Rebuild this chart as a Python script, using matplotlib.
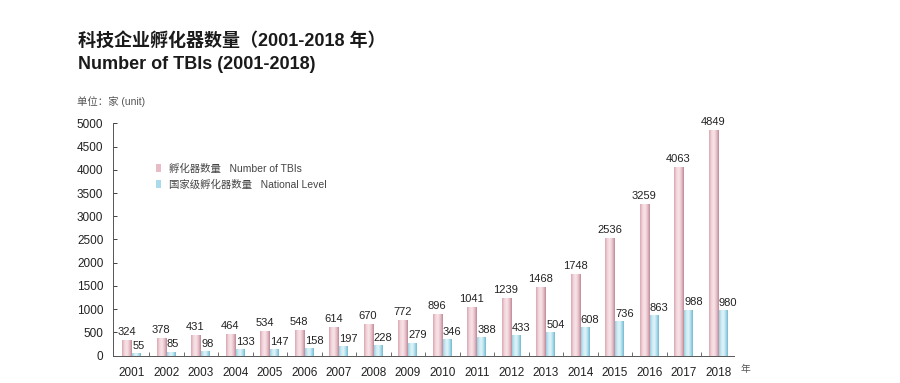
import matplotlib

matplotlib.use('Agg')
import matplotlib.pyplot as plt
import numpy as np
from matplotlib.colors import LinearSegmentedColormap

plt.rcParams['font.family'] = ['Liberation Sans', 'Noto Sans CJK SC']

years = ["2001", "2002", "2003", "2004", "2005", "2006", "2007", "2008", "2009",
         "2010", "2011", "2012", "2013", "2014", "2015", "2016", "2017", "2018"]
total = [324, 378, 431, 464, 534, 548, 614, 670, 772, 896, 1041, 1239, 1468, 1748,
         2536, 3259, 4063, 4849]
national = [55, 85, 98, 133, 147, 158, 197, 228, 279, 346, 388, 433, 504, 608,
            736, 863, 988, 980]
yticks = [0, 500, 1000, 1500, 2000, 2500, 3000, 3500, 4000, 4500, 5000]

pink_cmap = LinearSegmentedColormap.from_list(
    "pink", ["#d7a7b2", "#f2d5db", "#f8e6ea", "#e9c1ca", "#bf8a97"])
blue_cmap = LinearSegmentedColormap.from_list(
    "blue", ["#98d0e2", "#cdebf4", "#e2f4f9", "#aedeec", "#72b9d1"])

fig = plt.figure(figsize=(9, 3.83), dpi=100)
ax = fig.add_axes([0.1256, 0.0713, 0.690, 0.6068])

x = np.arange(len(years))
b1 = ax.bar(x - 0.14, total, width=0.28, color="#e8bcc6", zorder=2,
            label="孵化器数量   Number of TBIs")
b2 = ax.bar(x + 0.12, national, width=0.24, color="#a9dbea", zorder=2,
            label="国家级孵化器数量   National Level")

# cylinder-ish shading on each bar
grad = np.linspace(0, 1, 64).reshape(1, -1)
for bars, cmap in ((b1, pink_cmap), (b2, blue_cmap)):
    for r in bars:
        x0, w, h = r.get_x(), r.get_width(), r.get_height()
        ax.imshow(grad, extent=(x0, x0 + w, 0, h), cmap=cmap, aspect='auto',
                  interpolation='bilinear', zorder=3)

for i in range(len(years)):
    ax.text(x[i] - 0.16, total[i] + 70, str(total[i]), ha='center', va='bottom',
            fontsize=8, color="#222222", zorder=4)
    ax.text(x[i] + 0.01, national[i] + 50, str(national[i]), ha='left', va='bottom',
            fontsize=8, color="#222222", zorder=4)

ax.set_xlim(-0.55, 17.45)
ax.set_ylim(0, 5000)
ax.set_xticks(x)
ax.set_xticklabels(years)
ax.set_xticks(x[:-1] + 0.5, minor=True)
ax.set_yticks(yticks)
ax.tick_params(axis='x', which='major', length=0, labelsize=8.5, colors="#222222", pad=8)
ax.tick_params(axis='x', which='minor', direction='in', length=3, width=0.6, color="#555555")
ax.tick_params(axis='y', direction='in', length=3, width=0.6, labelsize=8.5,
               colors="#222222", pad=7)
for s in ("top", "right"):
    ax.spines[s].set_visible(False)
for s in ("left", "bottom"):
    ax.spines[s].set_linewidth(0.7)
    ax.spines[s].set_color("#555555")

leg = ax.legend(handles=[b1, b2], loc='upper left', bbox_to_anchor=(0.168, 0.587),
                bbox_transform=fig.transFigure, frameon=False, fontsize=7.5,
                handlelength=0.45, handleheight=0.9, handletextpad=0.8,
                labelspacing=0.55, borderpad=0)
for t in leg.get_texts():
    t.set_color("#444444")

fig.text(0.087, 0.879, "科技企业孵化器数量（2001-2018 年）", fontsize=13,
         fontweight='bold', color="#1a1a1a")
fig.text(0.087, 0.819, "Number of TBIs (2001-2018)", fontsize=13,
         fontweight='bold', color="#1a1a1a")
fig.text(0.086, 0.726, "单位：家 (unit)", fontsize=7.5, color="#555555")
fig.text(0.823, 0.03, "年", fontsize=7, color="#555555")

fig.savefig("out.png", dpi=100, facecolor="white")
